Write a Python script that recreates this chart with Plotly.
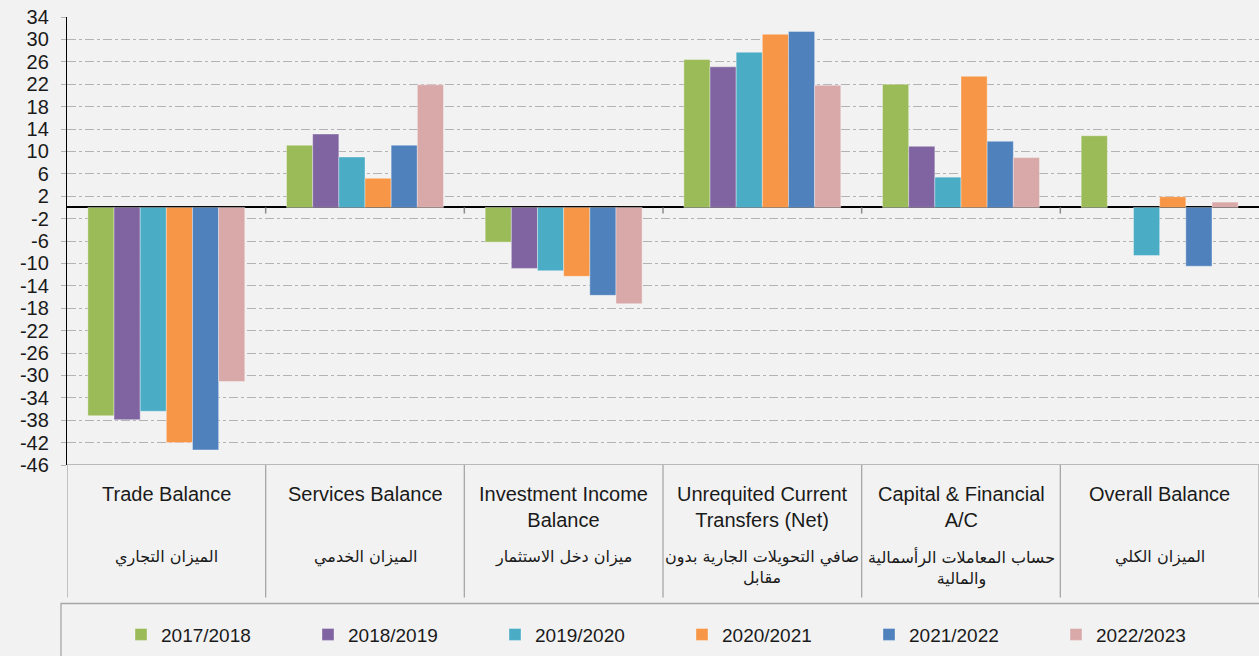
import plotly.graph_objects as go

categories_en = ["Trade Balance", "Services Balance", "Investment Income<br>Balance",
                 "Unrequited Current<br>Transfers (Net)", "Capital & Financial<br>A/C", "Overall Balance"]
categories_ar = ["الميزان التجاري", "الميزان الخدمي", "ميزان دخل الاستثمار",
                 "صافي التحويلات الجارية بدون<br>مقابل", "حساب المعاملات الرأسمالية<br>والمالية", "الميزان الكلي"]
cat_keys = ["Trade", "Services", "Investment", "Unrequited", "Capital", "Overall"]

years = ["2017/2018", "2018/2019", "2019/2020", "2020/2021", "2021/2022", "2022/2023"]
v_2017 = [-37.2, 11.1, -6.2, 26.4, 22.0, 12.8]
v_2018 = [-37.9, 13.1, -10.9, 25.1, 10.9, None]
v_2019 = [-36.4, 9.0, -11.3, 27.7, 5.4, -8.6]
v_2020 = [-42.0, 5.2, -12.3, 30.9, 23.4, 1.9]
v_2021 = [-43.3, 11.1, -15.7, 31.4, 11.8, -10.5]
v_2022 = [-31.1, 21.9, -17.2, 21.8, 8.9, 0.95]
series = [v_2017, v_2018, v_2019, v_2020, v_2021, v_2022]
colors = ["#9BBB59", "#8064A2", "#4BACC6", "#F79646", "#4F81BD", "#D9A9A9"]

yticks = list(range(34, -47, -4))

W, H = 1259, 656
L, T, B_PX = 67, 17, 464.6
PW = W - L
PH = B_PX - T


def py(px):
    return (B_PX - px) / PH


def pxx(px):
    return (px - L) / PW


fig = go.Figure()
legend_layouts = {}
for i, (name, vals, col) in enumerate(zip(years, series, colors)):
    lname = "legend" if i == 0 else f"legend{i + 1}"
    fig.add_trace(go.Bar(
        x=cat_keys, y=vals, name=name, legend=lname,
        marker=dict(color=col, line=dict(color="rgba(255,255,255,0.35)", width=1)),
    ))
    legend_layouts[lname] = dict(
        orientation="h", x=pxx(121 + 187 * i), xanchor="left", y=py(634), yanchor="middle",
        itemwidth=30, font=dict(family="Arial, Liberation Sans", size=19, color="#1a1a1a"),
        bgcolor="rgba(0,0,0,0)", borderwidth=0,
    )

shapes = []
for i in range(7):
    shapes.append(dict(type="line", xref="x", yref="paper", x0=i - 0.5, x1=i - 0.5,
                       y0=0, y1=py(597), line=dict(color="#a6a6a6", width=1.3), layer="above"))
for i in range(1, 6):
    shapes.append(dict(type="line", xref="x", yref="y", x0=i - 0.5, x1=i - 0.5,
                       y0=0, y1=-1.1, line=dict(color="#8c8c8c", width=1.5)))
shapes.append(dict(type="rect", xref="paper", yref="paper", x0=pxx(61), x1=1.02,
                   y0=py(700), y1=py(603), line=dict(color="#a6a6a6", width=1.3),
                   fillcolor="rgba(0,0,0,0)"))
shapes.append(dict(type="line", xref="paper", yref="y", x0=0, x1=1, y0=-46, y1=-46,
                   line=dict(color="#a6a6a6", width=1.3)))

annotations = []
for k, en, ar in zip(cat_keys, categories_en, categories_ar):
    annotations.append(dict(x=k, xref="x", yref="paper", y=py(481), yanchor="top",
                            text=en, showarrow=False,
                            font=dict(family="Arial, Liberation Sans", size=20, color="#1a1a1a")))
    annotations.append(dict(x=k, xref="x", yref="paper", y=py(545), yanchor="top",
                            text=ar, showarrow=False,
                            font=dict(family="DejaVu Sans, Noto Sans", size=16, color="#1a1a1a")))

fig.update_layout(
    width=W, height=H,
    margin=dict(l=L, r=0, t=T, b=H - B_PX, autoexpand=False),
    paper_bgcolor="#f2f2f2", plot_bgcolor="#f2f2f2",
    barmode="group", bargap=0.21, bargroupgap=0,
    showlegend=True,
    xaxis=dict(showticklabels=False, showgrid=False, zeroline=False, showline=False,
               ticks="", range=[-0.5, 5.5]),
    yaxis=dict(range=[-46, 34], tickvals=yticks, ticktext=[str(t) for t in yticks],
               showgrid=True, gridcolor="#b3b3b3", griddash="dashdot", gridwidth=1,
               zeroline=True, zerolinecolor="#000000", zerolinewidth=1.6,
               showline=True, linecolor="#000000", linewidth=1.3,
               ticks="outside", ticklen=5, tickcolor="#b3b3b3", ticklabelstandoff=8,
               tickfont=dict(family="Arial, Liberation Sans", size=20, color="#1a1a1a")),
    shapes=shapes, annotations=annotations,
    **legend_layouts,
)

fig.write_html("out.html", config={"displayModeBar": False},
               post_script="document.body.style.margin='0';document.body.style.background='#f2f2f2';")
